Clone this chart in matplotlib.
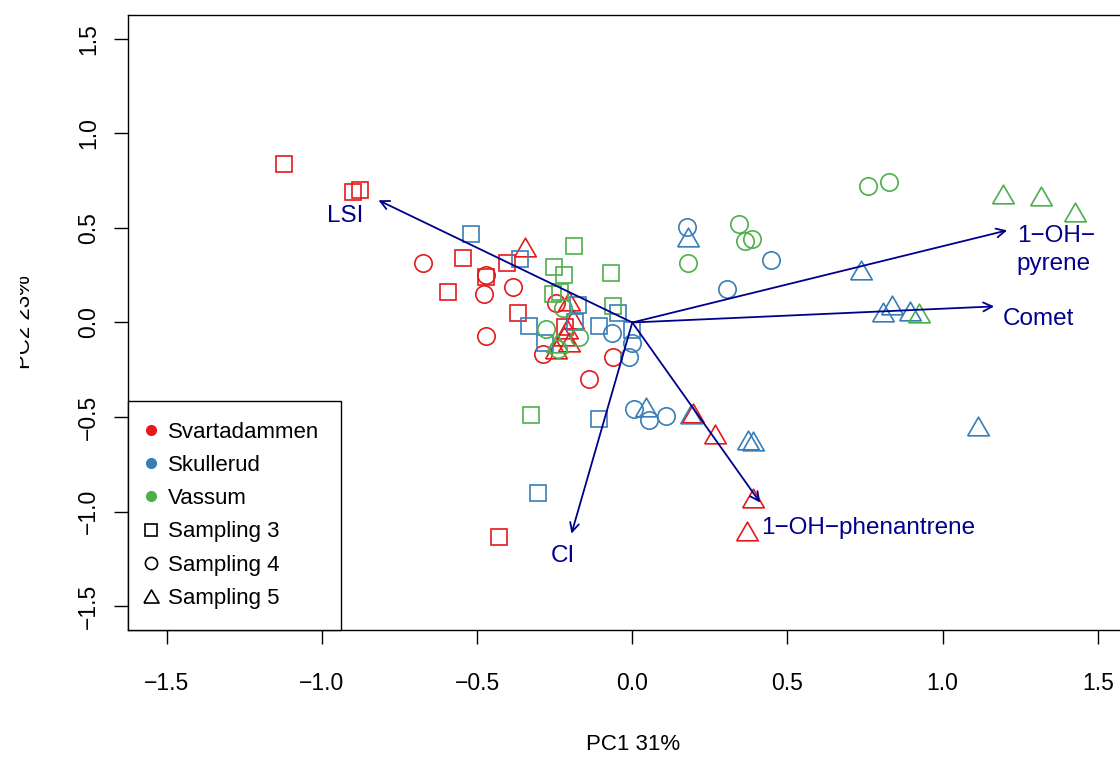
import numpy as np
import matplotlib.pyplot as plt
from matplotlib.lines import Line2D
from matplotlib.transforms import Bbox, TransformedBbox

plt.rcParams['font.family'] = ['Liberation Sans', 'DejaVu Sans']

# site colours (Set1)
red, blue, green = '#E41A1C', '#377EB8', '#4DAF4A'
arrow_col = '#00008B'

# PCA scores, one pair of lists per site and sampling
svart_s3_pc1 = [-1.121, -0.899, -0.876, -0.544, -0.593, -0.473, -0.403, -0.367, -0.216, -0.428]
svart_s3_pc2 = [0.836, 0.688, 0.698, 0.339, 0.159, 0.238, 0.317, 0.048, -0.026, -1.132]
svart_s4_pc1 = [-0.676, -0.470, -0.477, -0.473, -0.383, -0.245, -0.287, -0.138, -0.061]
svart_s4_pc2 = [0.317, 0.249, 0.153, -0.074, 0.190, 0.101, -0.164, -0.296, -0.185]
svart_s5_pc1 = [-0.345, -0.203, -0.190, -0.209, -0.219, -0.203, -0.245, 0.196, 0.267, 0.390, 0.370]
svart_s5_pc2 = [0.397, 0.116, 0.016, -0.032, -0.074, -0.101, -0.138, -0.476, -0.587, -0.926, -1.101]

skull_s3_pc1 = [-0.519, -0.361, -0.332, -0.280, -0.174, -0.184, -0.106, -0.045, 0.0, -0.106, -0.303]
skull_s3_pc2 = [0.466, 0.333, -0.021, -0.106, 0.095, 0.0, -0.016, 0.048, -0.042, -0.508, -0.899]
skull_s4_pc1 = [-0.064, -0.010, 0.0, 0.177, 0.448, 0.306, 0.006, 0.055, 0.110]
skull_s4_pc2 = [-0.058, -0.185, -0.111, 0.503, 0.328, 0.175, -0.455, -0.513, -0.492]
skull_s5_pc1 = [0.180, 0.045, 0.190, 0.374, 0.390, 0.738, 0.808, 0.837, 0.895, 1.114]
skull_s5_pc2 = [0.450, -0.444, -0.481, -0.619, -0.624, 0.275, 0.053, 0.095, 0.063, -0.545]

vass_s3_pc1 = [-0.187, -0.251, -0.219, -0.254, -0.232, -0.068, -0.061, -0.325]
vass_s3_pc2 = [0.402, 0.291, 0.249, 0.153, 0.159, 0.259, 0.085, -0.487]
vass_s4_pc1 = [-0.277, -0.222, -0.171, -0.238, 0.180, 0.345, 0.364, 0.386, 0.760, 0.828]
vass_s4_pc2 = [-0.037, 0.074, -0.079, -0.138, 0.317, 0.519, 0.429, 0.439, 0.720, 0.741]
vass_s5_pc1 = [1.195, 1.317, 1.427, 0.924, -0.242]
vass_s5_pc2 = [0.677, 0.667, 0.582, 0.048, -0.111]

# variable loadings (arrow tips)
var_names = ['LSI', '1\u2212OH\u2212\npyrene', 'Comet', '1\u2212OH\u2212phenantrene', 'CI']
load_pc1 = [-0.818, 1.208, 1.166, 0.412, -0.196]
load_pc2 = [0.646, 0.487, 0.085, -0.952, -1.116]

sites = ['Svartadammen', 'Skullerud', 'Vassum']
samplings = ['Sampling 3', 'Sampling 4', 'Sampling 5']

# open equilateral triangle like R's pch = 2
tri = [(-0.577, -0.5), (0.577, -0.5), (0.0, 0.5), (-0.577, -0.5)]
shapes = {'Sampling 3': ('s', 11.5), 'Sampling 4': ('o', 12.5), 'Sampling 5': (tri, 15.5)}

groups = [
    (red, 'Sampling 3', svart_s3_pc1, svart_s3_pc2),
    (red, 'Sampling 4', svart_s4_pc1, svart_s4_pc2),
    (red, 'Sampling 5', svart_s5_pc1, svart_s5_pc2),
    (blue, 'Sampling 3', skull_s3_pc1, skull_s3_pc2),
    (blue, 'Sampling 4', skull_s4_pc1, skull_s4_pc2),
    (blue, 'Sampling 5', skull_s5_pc1, skull_s5_pc2),
    (green, 'Sampling 3', vass_s3_pc1, vass_s3_pc2),
    (green, 'Sampling 4', vass_s4_pc1, vass_s4_pc2),
    (green, 'Sampling 5', vass_s5_pc1, vass_s5_pc2),
]

fig = plt.figure(figsize=(11.2, 7.58), dpi=100)
# right edge of the box runs just past the figure edge
ax = fig.add_axes([0.1143, 0.1689, 0.9005, 0.8113])

for col, samp, xs, ys in groups:
    m, ms = shapes[samp]
    ax.plot(xs, ys, linestyle='none', marker=m, markersize=ms,
            markerfacecolor='none', markeredgecolor=col, markeredgewidth=1.2)

# loading arrows and their labels
label_offsets = [(-24, -11, 'center', 'center'),
                 (7, -14, 'left', 'center'),
                 (6, -9, 'left', 'center'),
                 (1, -18, 'left', 'center'),
                 (-6, -16, 'center', 'center')]
for name, lx, ly, (dx, dy, ha, va) in zip(var_names, load_pc1, load_pc2, label_offsets):
    ax.annotate('', xy=(lx, ly), xytext=(0, 0),
                arrowprops=dict(arrowstyle='->', color=arrow_col, lw=1.3,
                                mutation_scale=16, shrinkA=0, shrinkB=0))
    ax.annotate(name, xy=(lx, ly), xytext=(dx, dy), textcoords='offset points',
                ha=ha, va=va, color=arrow_col, fontsize=17.5, linespacing=1.35)

ax.set_xlim(-1.625, 1.625)
ax.set_ylim(-1.625, 1.625)
ticks = [-1.5, -1.0, -0.5, 0.0, 0.5, 1.0, 1.5]
ax.set_xticks(ticks)
ax.set_yticks(ticks)
ax.set_xticklabels([f'{t:.1f}'.replace('-', '\u2212') for t in ticks])
ax.set_yticklabels([f'{t:.1f}'.replace('-', '\u2212') for t in ticks],
                   rotation=90, va='center')
ax.tick_params(direction='out', length=10, width=1, labelsize=16.5, color='black')
ax.tick_params(axis='x', pad=20)
ax.tick_params(axis='y', pad=10)
for sp in ax.spines.values():
    sp.set_linewidth(1.0)

fig.text(633 / 1120, 1 - 745 / 758, 'PC1 31%', ha='center', va='center', fontsize=16)
# y title sits partly outside the drawable margin, so only its lower half shows
ylab = fig.text(30 / 1120, 1 - 322 / 758, 'PC2 23%', ha='center', va='baseline',
                rotation=90, rotation_mode='anchor', fontsize=16)
ylab.set_clip_box(TransformedBbox(Bbox([[20 / 1120, 0], [1, 1]]), fig.transFigure))
ylab.set_clip_on(True)

handles = [Line2D([], [], linestyle='none', marker='o', markersize=7,
                  markerfacecolor=c, markeredgecolor=c) for c in (red, blue, green)]
handles += [Line2D([], [], linestyle='none', marker=shapes[s][0],
                   markersize=shapes[s][1] * 0.7, markerfacecolor='none',
                   markeredgecolor='black', markeredgewidth=1.2) for s in samplings]
leg = ax.legend(handles, sites + samplings, loc='lower left', bbox_to_anchor=(0, 0),
                borderaxespad=0, fontsize=16, frameon=True, fancybox=False,
                edgecolor='black', framealpha=1, handlelength=0.2,
                handletextpad=0.66, labelspacing=0.55, borderpad=0.95)
leg.get_frame().set_linewidth(1.0)

plt.savefig('out.png', dpi=100)
